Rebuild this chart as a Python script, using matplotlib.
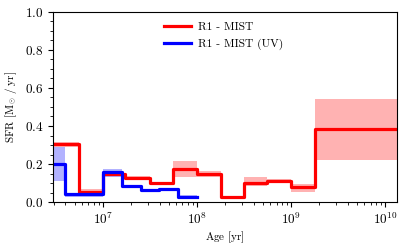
import numpy as np
import matplotlib
matplotlib.use("Agg")
import matplotlib.pyplot as plt

plt.rcParams['font.family'] = 'serif'
plt.rcParams['font.serif'] = ['cmr10']
plt.rcParams['mathtext.fontset'] = 'cm'
plt.rcParams['axes.formatter.use_mathtext'] = True

# log10(age) bin edges, SFR values and uncertainty band
red_edges = [6.47, 6.75, 7.0, 7.24, 7.5, 7.74, 8.0, 8.25, 8.5, 8.74, 9.0, 9.25, 10.13]
red_sfr = [0.305, 0.052, 0.145, 0.125, 0.098, 0.172, 0.150, 0.025, 0.100, 0.109, 0.077, 0.382]
red_lo = [0.291, 0.035, 0.135, 0.115, 0.090, 0.133, 0.133, 0.020, 0.084, 0.098, 0.054, 0.221]
red_hi = [0.316, 0.070, 0.155, 0.135, 0.105, 0.216, 0.163, 0.030, 0.133, 0.120, 0.093, 0.542]

blue_edges = [6.47, 6.6, 7.0, 7.2, 7.4, 7.6, 7.8, 8.0]
blue_sfr = [0.200, 0.040, 0.160, 0.084, 0.061, 0.067, 0.028]
blue_lo = [0.112, 0.025, 0.133, 0.076, 0.054, 0.060, 0.022]
blue_hi = [0.290, 0.045, 0.174, 0.092, 0.068, 0.074, 0.036]

labels = ['R1 - MIST', 'R1 - MIST (UV)']

fig = plt.figure(figsize=(4.08, 2.44), dpi=100)
ax = fig.add_axes([0.130, 0.172, 0.844, 0.779])

def draw(edges, sfr, lo, hi, color, label):
    x = 10 ** np.array(edges)
    y = np.append(sfr, sfr[-1])
    ylo = np.append(lo, lo[-1])
    yhi = np.append(hi, hi[-1])
    ax.fill_between(x, ylo, yhi, step='post', color=color, alpha=0.3, lw=0)
    ax.step(x, y, where='post', color=color, lw=2.3, label=label)

draw(red_edges, red_sfr, red_lo, red_hi, 'red', labels[0])
draw(blue_edges, blue_sfr, blue_lo, blue_hi, 'blue', labels[1])

ax.set_xscale('log')
ax.set_xlim(10 ** 6.47, 10 ** 10.13)
ax.set_ylim(0, 1.0)
ax.set_yticks([0.0, 0.2, 0.4, 0.6, 0.8, 1.0])
ax.set_yticks(np.arange(0, 1.0001, 0.05), minor=True)
ax.tick_params(axis='both', which='major', labelsize=9.5, length=3.5, width=0.8)
ax.tick_params(axis='both', which='minor', length=2, width=0.6)
ax.set_xlabel(r'Age $[\mathrm{yr}]$', fontsize=8, labelpad=2)
ax.set_ylabel(r'SFR $[\mathrm{M}_{\odot}\ /\ \mathrm{yr}]$', fontsize=8, labelpad=4)
ax.legend(loc='upper center', frameon=False, fontsize=8.3, handlelength=2.3,
          handletextpad=0.6, labelspacing=0.55, bbox_to_anchor=(0.495, 1.0))

fig.savefig('out.png', dpi=100)
